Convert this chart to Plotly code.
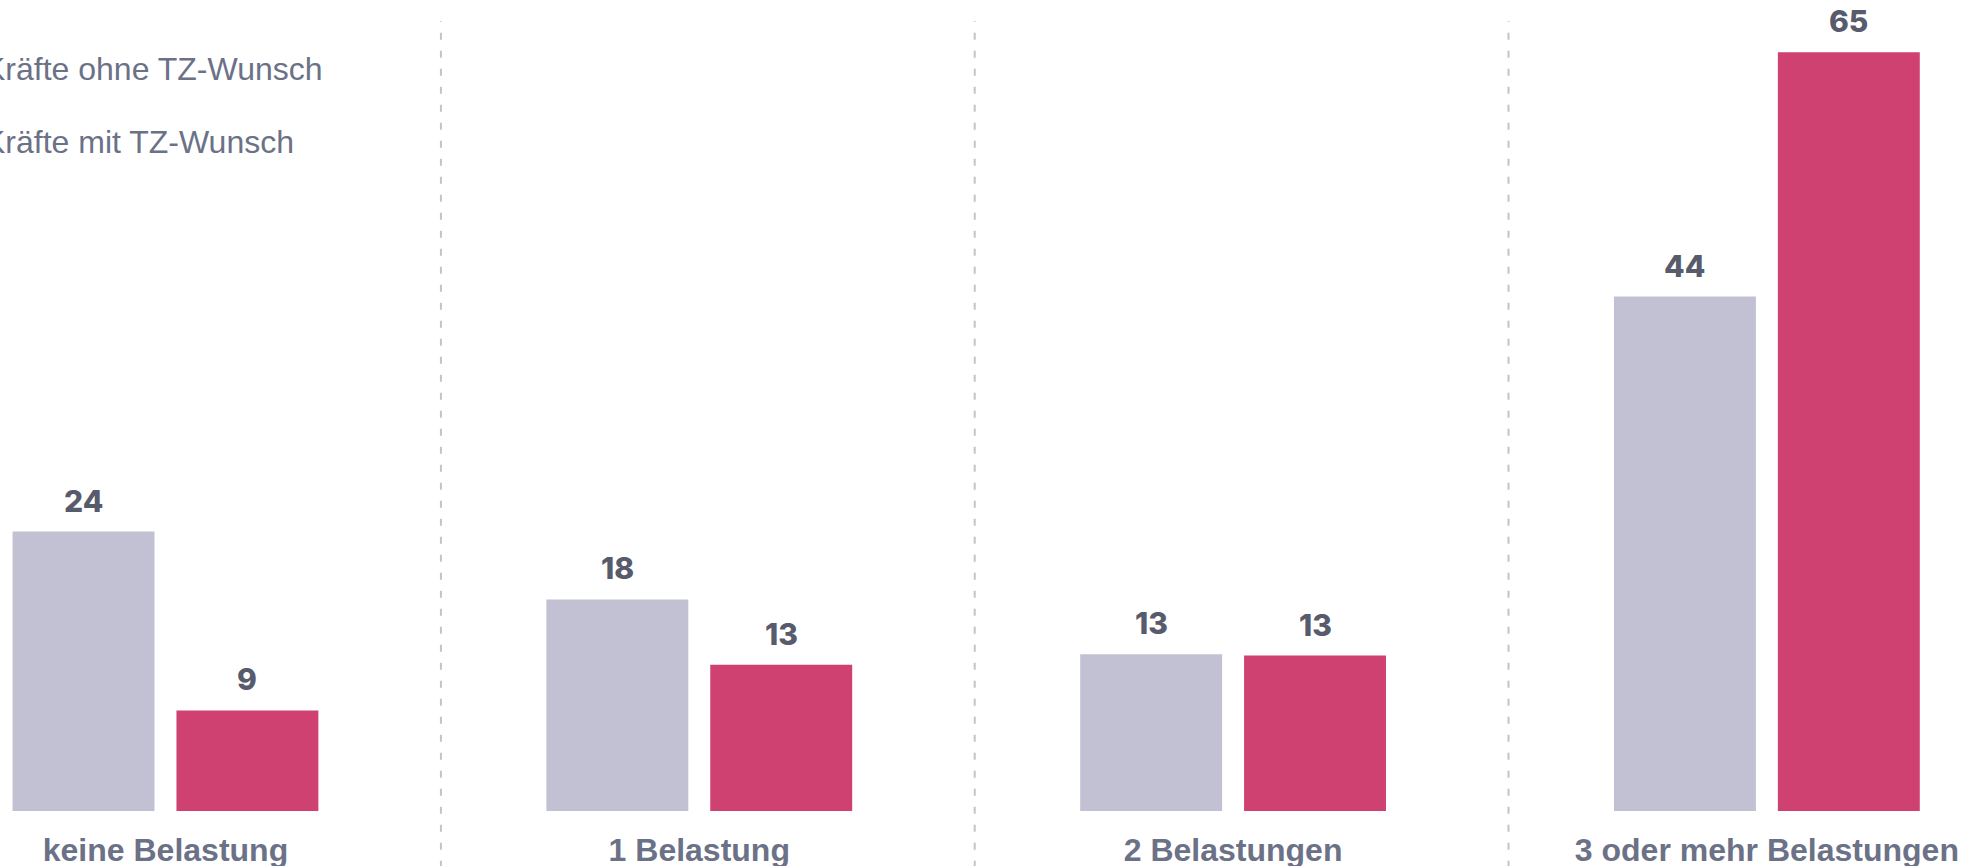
import plotly.graph_objects as go

categories = ["keine Belastung", "1 Belastung", "2 Belastungen", "3 oder mehr Belastungen"]
series_names = ["Kräfte ohne TZ-Wunsch", "Kräfte mit TZ-Wunsch"]
# values (labels show them rounded)
ohne_tz = [23.9, 18.1, 13.4, 44.0]
mit_tz = [8.6, 12.5, 13.3, 64.9]
colors = ["#C2C1D3", "#CF4170"]

x_pos = list(range(len(categories)))
fig = go.Figure()
for name, vals, col, grp in zip(series_names, [ohne_tz, mit_tz], colors, ["a", "b"]):
    fig.add_trace(go.Bar(
        x=x_pos, y=vals, name=name, marker=dict(color=col, line=dict(width=0)),
        legendgroup=grp,
    ))

# value labels above bars (rounded half-up)
half = 0.1535
annotations = []
for vals, off in [(ohne_tz, -half), (mit_tz, half)]:
    for i, v in enumerate(vals):
        annotations.append(dict(
            x=i + off, y=v, xref="x", yref="y", text=str(int(v + 0.5)), showarrow=False,
            yanchor="bottom", yshift=11,
            font=dict(family="Inter", size=30, color="#575B6B", weight=800),
        ))

# dashed separators between groups
shapes = []
for i in range(len(categories) - 1):
    shapes.append(dict(
        type="line", xref="x", yref="paper", x0=i + 0.516, x1=i + 0.516,
        y0=-0.07, y1=0.974, line=dict(color="#C4C4C4", width=2, dash="7px,11px"),
    ))

fig.update_layout(
    width=1974, height=866,
    margin=dict(l=0, r=0, t=0, b=55, autoexpand=False),
    paper_bgcolor="white", plot_bgcolor="white",
    barmode="group", bargap=0.386, bargroupgap=0.134,
    showlegend=True,
    legend=dict(
        x=-56 / 1974, xanchor="left", y=0.951, yanchor="top", xref="paper", yref="paper",
        font=dict(family="Liberation Sans", size=32, color="#6B7186"),
        traceorder="grouped", tracegroupgap=29, bgcolor="rgba(0,0,0,0)",
    ),
    xaxis=dict(
        range=[-0.310, 3.388], tickvals=x_pos, ticktext=categories,
        showgrid=False, zeroline=False, showline=False, ticks="",
        ticklabelstandoff=17,
        tickfont=dict(family="Liberation Sans", size=32, color="#6B7186", weight="bold"),
    ),
    yaxis=dict(range=[0, 69.37], visible=False, showgrid=False, zeroline=False),
    annotations=annotations, shapes=shapes,
)

fig.write_html("out.html", config={"displayModeBar": False},
               post_script="document.body.style.margin='0';")
